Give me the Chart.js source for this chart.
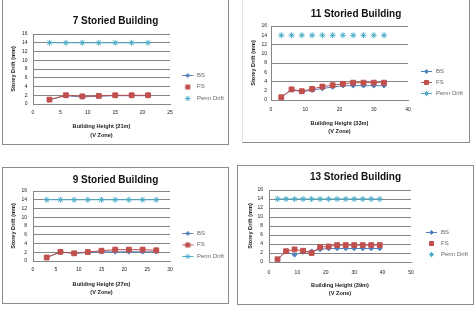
<!DOCTYPE html>
<html>
<head>
<meta charset="utf-8">
<script src="https://cdn.jsdelivr.net/npm/chart.js@4.4.0/dist/chart.umd.min.js"></script>
<style>
body { margin: 0; background: #fff; width: 476px; height: 310px; position: relative; overflow: hidden; }
.panel { position: absolute; border: 1px solid #8c8c8c; box-sizing: border-box; }
.panel canvas { position: absolute; left: 0; top: 0; }
</style>
</head>
<body>
<div class="panel" style="left:2px;top:-1px;width:227px;height:146px"><canvas id="c7" width="225" height="144"></canvas></div>
<div class="panel" style="left:242px;top:-1px;width:228px;height:144px;border-left-color:#e4e4e4"><canvas id="c11" width="226" height="142"></canvas></div>
<div class="panel" style="left:2px;top:167px;width:227px;height:137px"><canvas id="c9" width="225" height="135"></canvas></div>
<div class="panel" style="left:237px;top:165px;width:237px;height:140px"><canvas id="c13" width="235" height="138"></canvas></div>
<script>
// 7 storey
const heights7 = [3, 6, 9, 12, 15, 18, 21];
const bs7 = [1.0, 1.9, 1.6, 1.8, 1.9, 1.9, 1.9];
const fs7 = [1.0, 2.0, 1.75, 1.85, 2.0, 2.0, 2.0];
const perm7 = [14, 14, 14, 14, 14, 14, 14];

// 11 storey
const heights11 = [3, 6, 9, 12, 15, 18, 21, 24, 27, 30, 33];
const bs11 = [0.6, 2.2, 1.8, 2.1, 2.5, 2.8, 3.1, 3.1, 3.1, 3.1, 3.1];
const fs11 = [0.6, 2.3, 1.9, 2.4, 2.9, 3.2, 3.5, 3.75, 3.75, 3.75, 3.75];
const perm11 = [14, 14, 14, 14, 14, 14, 14, 14, 14, 14, 14];

// 9 storey
const heights9 = [3, 6, 9, 12, 15, 18, 21, 24, 27];
const bs9 = [0.8, 2.0, 1.8, 1.9, 2.1, 2.1, 2.1, 2.1, 2.1];
const fs9 = [0.8, 2.1, 1.75, 2.05, 2.35, 2.6, 2.6, 2.6, 2.45];
const perm9 = [14, 14, 14, 14, 14, 14, 14, 14, 14];

// 13 storey
const heights13 = [3, 6, 9, 12, 15, 18, 21, 24, 27, 30, 33, 36, 39];
const bs13 = [0.6, 2.3, 1.6, 2.2, 2.4, 2.8, 3.0, 3.0, 3.0, 3.0, 3.0, 3.0, 3.0];
const fs13 = [0.6, 2.4, 2.8, 2.5, 2.0, 3.3, 3.45, 3.75, 3.75, 3.75, 3.75, 3.75, 3.75];
const perm13 = [14, 14, 14, 14, 14, 14, 14, 14, 14, 14, 14, 14, 14];

const seriesNames = ["BS", "FS", "Perm Drift"];
const yTicks = [0, 16, 2];
const yTitle = "Storey Drift (mm)";

const FONT = "'Liberation Sans', Arial, sans-serif";
const GRID = "#868686";
const TXT = "#222";
const COLORS = ["#4F81BD", "#C0504D", "#4BACC6"];
const STYLES = ["rectRot", "rect", "star"];
const RADII = [2.3, 3.4, 3];

const points = (xs, ys) => xs.map((x, i) => ({ x: x, y: ys[i] }));

// small legend picture: optional line with the marker in the middle
function legendIcon(i, withLine, left) {
    const c = document.createElement("canvas");
    c.width = left + 12;
    c.height = 8;
    const g = c.getContext("2d");
    g.strokeStyle = COLORS[i];
    g.fillStyle = COLORS[i];
    g.lineWidth = 1;
    if (withLine) {
        g.beginPath();
        g.moveTo(left, 4.5);
        g.lineTo(left + 11, 4.5);
        g.stroke();
    }
    Chart.helpers.drawPoint(g, { pointStyle: STYLES[i], radius: RADII[i] * 0.85, borderWidth: 1 }, left + 5.5, 4.5);
    return c;
}

function driftChart(id, o) {
    const icons = [0, 1, 2].map((i) => legendIcon(i, o.legendLines[i], o.iconLeft));
    const series = [o.bs, o.fs, o.perm];
    return new Chart(document.getElementById(id), {
        type: "scatter",
        data: {
            datasets: series.map((s, i) => ({
                label: seriesNames[i],
                data: points(o.heights, s),
                showLine: o.lines[i],
                borderColor: COLORS[i],
                backgroundColor: COLORS[i],
                borderWidth: 1,
                pointStyle: STYLES[i],
                pointRadius: RADII[i],
                pointBorderWidth: 1,
                order: 2 - i,
            })),
        },
        options: {
            responsive: false,
            animation: false,
            devicePixelRatio: 1,
            events: [],
            layout: { padding: 0 },
            plugins: {
                tooltip: { enabled: false },
                title: {
                    display: true,
                    text: o.title,
                    color: "#111",
                    font: { family: FONT, size: 10, weight: "bold" },
                    padding: o.titlePad,
                },
                legend: {
                    position: "right",
                    align: "start",
                    maxWidth: o.legendWidth,
                    title: { display: true, text: "", font: { size: 1 }, padding: { top: o.legendTop - 1.2, bottom: 0 } },
                    labels: {
                        usePointStyle: true,
                        pointStyleWidth: o.iconLeft + 12,
                        padding: o.legendPad,
                        color: TXT,
                        font: { family: FONT, size: 6 },
                        generateLabels: (chart) =>
                            chart.data.datasets.map((ds, i) => ({
                                text: ds.label,
                                pointStyle: icons[i],
                                fillStyle: COLORS[i],
                                strokeStyle: COLORS[i],
                                lineWidth: 0,
                                hidden: false,
                                datasetIndex: i,
                            })),
                    },
                },
            },
            scales: {
                x: {
                    type: "linear",
                    min: 0,
                    max: o.xMax,
                    ticks: { stepSize: o.xStep, autoSkip: false, padding: o.xTickPad, color: TXT, font: { family: FONT, size: 5 }, maxRotation: 0 },
                    grid: { display: false, drawTicks: false },
                    border: { display: true, color: GRID },
                    title: {
                        display: true,
                        text: o.xTitle,
                        color: TXT,
                        font: { family: FONT, size: 5.6, weight: "bold", lineHeight: o.xTitleLH / 5.6 },
                        padding: { top: 0, bottom: o.xTitleBottom },
                    },
                    afterFit: (s) => { s.height = o.xHeight; },
                },
                y: {
                    min: yTicks[0],
                    max: yTicks[1],
                    ticks: { stepSize: yTicks[2], autoSkip: false, padding: o.yTickPad, color: TXT, font: { family: FONT, size: 5 } },
                    grid: {
                        drawTicks: false,
                        color: (ctx) => (ctx.tick && ctx.tick.value % o.gridEvery === 0 ? GRID : "rgba(0,0,0,0)"),
                    },
                    border: { display: true, color: GRID },
                    title: {
                        display: true,
                        text: yTitle,
                        color: TXT,
                        font: { family: FONT, size: 5.6, weight: "bold" },
                        padding: { top: o.yTitlePad, bottom: 0 },
                    },
                    afterFit: (s) => { s.width = o.yWidth; },
                },
            },
        },
    });
}

driftChart("c7", {
    title: "7 Storied Building", xTitle: ["Building Height (21m)", "(V Zone)"],
    heights: heights7, bs: bs7, fs: fs7, perm: perm7,
    lines: [true, true, true], legendLines: [true, false, false],
    xMax: 25, xStep: 5, gridEvery: 2,
    titlePad: { top: 15, bottom: 7 }, yWidth: 30, yTickPad: 5.5, yTitlePad: 6.6,
    xHeight: 40, xTickPad: 6, xTitleLH: 9, xTitleBottom: 4.5,
    legendWidth: 58, legendPad: 5.5, legendTop: 66.5, iconLeft: 6.5,
});

driftChart("c11", {
    title: "11 Storied Building", xTitle: ["Building Height (33m)", "(V Zone)"],
    heights: heights11, bs: bs11, fs: fs11, perm: perm11,
    lines: [true, true, false], legendLines: [true, true, true],
    xMax: 40, xStep: 10, gridEvery: 4,
    titlePad: { top: 8, bottom: 6 }, yWidth: 28, yTickPad: 4, yTitlePad: 6.6,
    xHeight: 42, xTickPad: 7, xTitleLH: 8, xTitleBottom: 7,
    legendWidth: 61, legendPad: 5, legendTop: 63, iconLeft: 8,
});

driftChart("c9", {
    title: "9 Storied Building", xTitle: ["Building Height (27m)", "(V Zone)"],
    heights: heights9, bs: bs9, fs: fs9, perm: perm9,
    lines: [true, true, true], legendLines: [true, true, true],
    xMax: 30, xStep: 5, gridEvery: 2,
    titlePad: { top: 6, bottom: 5 }, yWidth: 30, yTickPad: 6, yTitlePad: 6.6,
    xHeight: 42, xTickPad: 6, xTitleLH: 8, xTitleBottom: 7,
    legendWidth: 58, legendPad: 5.5, legendTop: 56.5, iconLeft: 6.5,
});

driftChart("c13", {
    title: "13 Storied Building", xTitle: ["Building Height (39m)", "(V Zone)"],
    heights: heights13, bs: bs13, fs: fs13, perm: perm13,
    lines: [true, true, true], legendLines: [true, false, false],
    xMax: 50, xStep: 10, gridEvery: 2,
    titlePad: { top: 5, bottom: 7 }, yWidth: 31, yTickPad: 6, yTitlePad: 8.6,
    xHeight: 42, xTickPad: 8, xTitleLH: 7.5, xTitleBottom: 7.25,
    legendWidth: 62, legendPad: 5, legendTop: 58, iconLeft: 10,
});
</script>
</body>
</html>
